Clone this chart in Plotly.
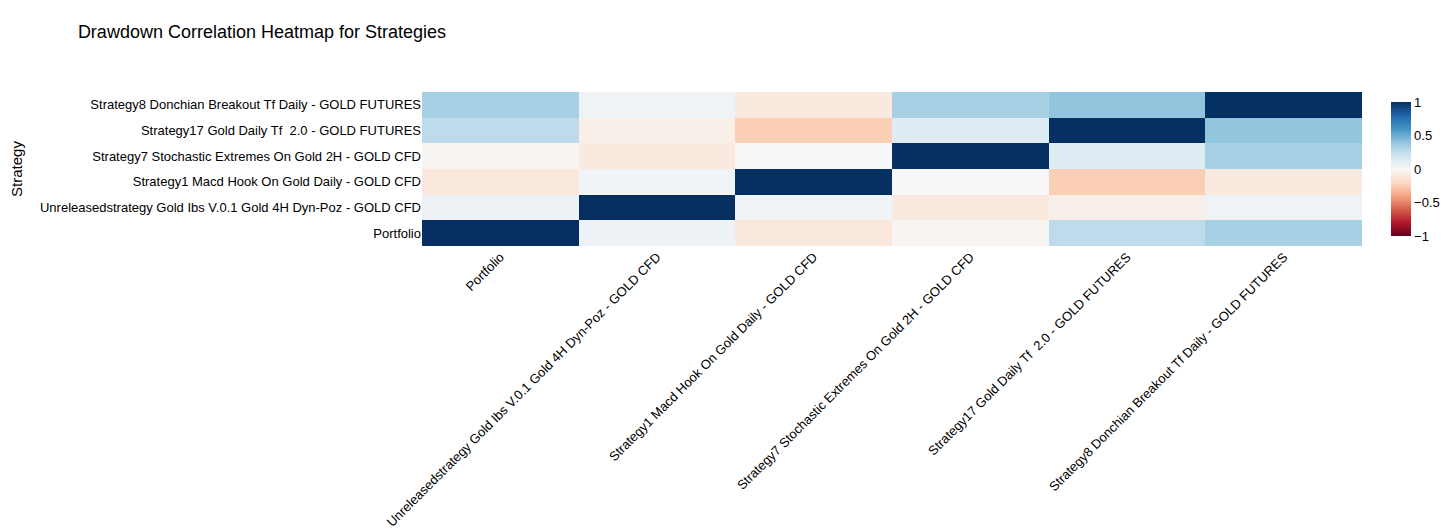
import plotly.graph_objects as go

# strategy names (bottom -> top on y, left -> right on x)
strategies = [
    "Portfolio",
    "Unreleasedstrategy Gold Ibs V.0.1 Gold 4H Dyn-Poz - GOLD CFD",
    "Strategy1 Macd Hook On Gold Daily - GOLD CFD",
    "Strategy7 Stochastic Extremes On Gold 2H - GOLD CFD",
    "Strategy17 Gold Daily Tf  2.0 - GOLD FUTURES",
    "Strategy8 Donchian Breakout Tf Daily - GOLD FUTURES",
]

# drawdown correlation rows, one per strategy (same order as above)
row_portfolio = [1.00, 0.06, -0.11, -0.02, 0.26, 0.33]
row_unreleased = [0.06, 1.00, 0.03, -0.10, -0.06, 0.04]
row_strategy1 = [-0.11, 0.03, 1.00, 0.00, -0.25, -0.10]
row_strategy7 = [-0.02, -0.10, 0.00, 1.00, 0.12, 0.33]
row_strategy17 = [0.26, -0.06, -0.25, 0.12, 1.00, 0.40]
row_strategy8 = [0.33, 0.04, -0.10, 0.33, 0.40, 1.00]

corr = [row_portfolio, row_unreleased, row_strategy1,
        row_strategy7, row_strategy17, row_strategy8]

fig = go.Figure()

fig.add_trace(go.Heatmap(
    z=corr,
    x=strategies,
    y=strategies,
    colorscale='RdBu',
    zmin=-1,
    zmax=1,
    colorbar=dict(thickness=20, tickvals=[-1, -0.5, 0, 0.5, 1],
                  tickfont=dict(size=13)),
))

# page body adds 8px offset, margins are compensated for it
fig.update_layout(
    title=dict(text='Drawdown Correlation Heatmap for Strategies',
               x=0.048, y=0.968, font=dict(size=18)),
    font=dict(family='Arial, Liberation Sans, sans-serif', color='#000000', size=13),
    width=1456,
    height=531,
    margin=dict(l=414, r=102, t=84, b=293),
    plot_bgcolor='white',
    paper_bgcolor='white',
    xaxis=dict(tickangle=-45, automargin=False, showgrid=False),
    yaxis=dict(title=dict(text='Strategy', font=dict(size=15), standoff=20),
               automargin=False, showgrid=False),
)

fig.write_html("out.html")
